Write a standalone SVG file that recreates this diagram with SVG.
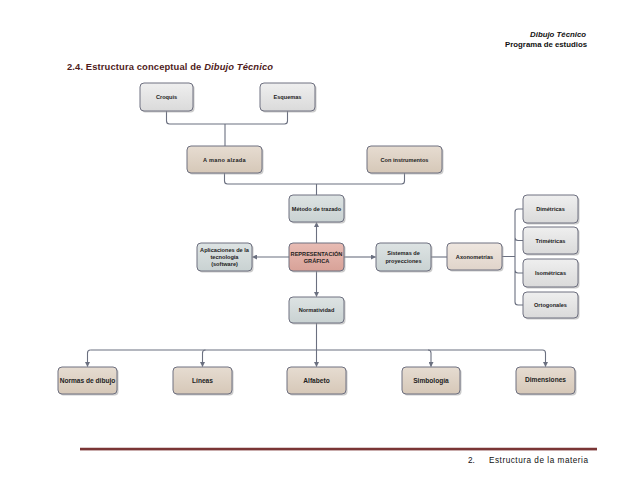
<svg xmlns="http://www.w3.org/2000/svg" width="638" height="493" viewBox="0 0 638 493">
<defs>
<linearGradient id="gGray" x1="0" y1="0" x2="0" y2="1"><stop offset="0" stop-color="#efefef"/><stop offset="1" stop-color="#dadada"/></linearGradient>
<linearGradient id="gBeige" x1="0" y1="0" x2="0" y2="1"><stop offset="0" stop-color="#e6dcd1"/><stop offset="1" stop-color="#d6c8b8"/></linearGradient>
<linearGradient id="gLight" x1="0" y1="0" x2="0" y2="1"><stop offset="0" stop-color="#efe7e0"/><stop offset="1" stop-color="#e0d4ca"/></linearGradient>
<linearGradient id="gBlue" x1="0" y1="0" x2="0" y2="1"><stop offset="0" stop-color="#dde3e3"/><stop offset="1" stop-color="#c9d2d2"/></linearGradient>
<linearGradient id="gPink" x1="0" y1="0" x2="0" y2="1"><stop offset="0" stop-color="#e8bcb4"/><stop offset="1" stop-color="#d8a298"/></linearGradient>
<marker id="arr" viewBox="0 0 10 10" refX="9" refY="5" markerWidth="5" markerHeight="5" orient="auto" markerUnits="userSpaceOnUse"><path d="M0,0 L10,5 L0,10 z" fill="#6b7080"/></marker>
</defs>
<style>
.sh{fill:#a0a0a0;opacity:0.55}
.bx{stroke:#6e7080;stroke-width:1}
.gray{fill:url(#gGray)}
.beige{fill:url(#gBeige)}
.light{fill:url(#gLight)}
.blue{fill:url(#gBlue)}
.pink{fill:url(#gPink)}
.t{font-family:"Liberation Sans",Arial,sans-serif;font-weight:bold;font-size:5.6px;fill:#222;text-anchor:middle}
.tb{font-family:"Liberation Sans",Arial,sans-serif;font-weight:bold;font-size:6.6px;fill:#222;text-anchor:middle}
.c{fill:none;stroke:#6b7080;stroke-width:1.1}
</style>
<rect width="638" height="493" fill="#ffffff"/>
<g id="header" font-family="'Liberation Sans',Arial,sans-serif" font-weight="bold" fill="#111" text-anchor="end">
<text x="586" y="37" font-size="7.8" font-style="italic">Dibujo Técnico</text>
<text x="587" y="47" font-size="7.8">Programa de estudios</text>
</g>
<text id="title" x="67" y="70" font-family="'Liberation Sans',Arial,sans-serif" font-weight="bold" font-size="9.4" fill="#4f1c1c" textLength="206">2.4. Estructura conceptual de <tspan font-style="italic">Dibujo Técnico</tspan></text>
<g id="connectors">
<path class="c" d="M166.5,111 V121 Q166.5,124 169.5,124 H284.5 Q287.5,124 287.5,121 V111 M225,124 V146"/>
<path class="c" d="M224.5,173 V181 Q224.5,184 227.5,184 H401.5 Q404.5,184 404.5,181 V173 M316.5,184 V195"/>
<path class="c" d="M316.5,243 V222.5" marker-end="url(#arr)"/>
<path class="c" d="M289,257 H252.5" marker-end="url(#arr)"/>
<path class="c" d="M344,257 H375.5" marker-end="url(#arr)"/>
<path class="c" d="M316.5,271 V296.5" marker-end="url(#arr)"/>
<path class="c" d="M431,257 H447"/>
<path class="c" d="M502,256.5 H515 M523,209 H518 Q515,209 515,212 V302 Q515,305 518,305 H523 M515,237.5 Q515,240.5 518,240.5 H523 M515,270 Q515,273 518,273 H523"/>
<path class="c" d="M316.5,323 V366.5" marker-end="url(#arr)"/>
<path class="c" d="M90.5,350 H542.5 Q545.5,350 545.5,353 V366.5" marker-end="url(#arr)"/>
<path class="c" d="M90.5,350 Q87.5,350 87.5,353 V366.5" marker-end="url(#arr)"/>
<path class="c" d="M205.5,350 Q202.5,350 202.5,353 V366.5" marker-end="url(#arr)"/>
<path class="c" d="M428,350 Q431,350 431,353 V366.5" marker-end="url(#arr)"/>
</g>
<g id="croquis"><rect class="sh" x="141.5" y="84.5" width="53" height="28" rx="4"/><rect class="bx gray" x="140" y="83" width="53" height="28" rx="4"/><text class="t" x="166.5" y="99">Croquis</text></g>
<g id="esquemas"><rect class="sh" x="261.5" y="84.5" width="55" height="28" rx="4"/><rect class="bx gray" x="260" y="83" width="55" height="28" rx="4"/><text class="t" x="287.5" y="99">Esquemas</text></g>
<g id="amanoalzada"><rect class="sh" x="188.5" y="147.5" width="75" height="27" rx="4"/><rect class="bx beige" x="187" y="146" width="75" height="27" rx="4"/><text class="t" x="224.5" y="161.5" letter-spacing="0.3">A mano alzada</text></g>
<g id="coninstrumentos"><rect class="sh" x="368.5" y="147.5" width="75" height="27" rx="4"/><rect class="bx beige" x="367" y="146" width="75" height="27" rx="4"/><text class="t" x="404.5" y="161.5">Con instrumentos</text></g>
<g id="metodo"><rect class="sh" x="290.5" y="196.5" width="55" height="27" rx="4"/><rect class="bx blue" x="289" y="195" width="55" height="27" rx="4"/><text class="t" x="316.5" y="210.5">Método de trazado</text></g>
<g id="representacion"><rect class="sh" x="290.5" y="244.5" width="55" height="28" rx="4"/><rect class="bx pink" x="289" y="243" width="55" height="28" rx="4"/><text class="t" x="316.5" y="255.5">REPRESENTACIÓN</text><text class="t" x="316.5" y="263">GRÁFICA</text></g>
<g id="aplicaciones"><rect class="sh" x="198.5" y="244.5" width="55" height="28" rx="4"/><rect class="bx blue" x="197" y="243" width="55" height="28" rx="4"/><text class="t" x="224.5" y="251.5">Aplicaciones de la</text><text class="t" x="224.5" y="258.5">tecnología</text><text class="t" x="224.5" y="265.5">(software)</text></g>
<g id="sistemas"><rect class="sh" x="377.5" y="244.5" width="55" height="28" rx="4"/><rect class="bx blue" x="376" y="243" width="55" height="28" rx="4"/><text class="t" x="403.5" y="255">Sistemas de</text><text class="t" x="403.5" y="263">proyecciones</text></g>
<g id="axonometrias"><rect class="sh" x="448.5" y="244.5" width="55" height="27" rx="4"/><rect class="bx light" x="447" y="243" width="55" height="27" rx="4"/><text class="t" x="474.5" y="258.5">Axonometrías</text></g>
<g id="dimetricas"><rect class="sh" x="524.5" y="196.5" width="55" height="28" rx="4"/><rect class="bx gray" x="523" y="195" width="55" height="28" rx="4"/><text class="t" x="550.5" y="211">Dimétricas</text></g>
<g id="trimetricas"><rect class="sh" x="524.5" y="228.5" width="55" height="27" rx="4"/><rect class="bx gray" x="523" y="227" width="55" height="27" rx="4"/><text class="t" x="550.5" y="242.5">Trimétricas</text></g>
<g id="isometricas"><rect class="sh" x="524.5" y="260.5" width="55" height="28" rx="4"/><rect class="bx gray" x="523" y="259" width="55" height="28" rx="4"/><text class="t" x="550.5" y="275">Isométricas</text></g>
<g id="ortogonales"><rect class="sh" x="524.5" y="293.5" width="55" height="26" rx="4"/><rect class="bx gray" x="523" y="292" width="55" height="26" rx="4"/><text class="t" x="550.5" y="307">Ortogonales</text></g>
<g id="normatividad"><rect class="sh" x="290.5" y="298.5" width="55" height="26" rx="4"/><rect class="bx blue" x="289" y="297" width="55" height="26" rx="4"/><text class="t" x="316.5" y="312">Normatividad</text></g>
<g id="normas"><rect class="sh" x="59.5" y="368.5" width="59" height="27" rx="4"/><rect class="bx beige" x="58" y="367" width="59" height="27" rx="4"/><text class="tb" x="87.5" y="383">Normas de dibujo</text></g>
<g id="lineas"><rect class="sh" x="174.5" y="368.5" width="59" height="27" rx="4"/><rect class="bx beige" x="173" y="367" width="59" height="27" rx="4"/><text class="tb" x="202.5" y="383">Líneas</text></g>
<g id="alfabeto"><rect class="sh" x="288.5" y="368.5" width="59" height="27" rx="4"/><rect class="bx beige" x="287" y="367" width="59" height="27" rx="4"/><text class="tb" x="316.5" y="383">Alfabeto</text></g>
<g id="simbologia"><rect class="sh" x="403.5" y="368.5" width="58" height="27" rx="4"/><rect class="bx beige" x="402" y="367" width="58" height="27" rx="4"/><text class="tb" x="431" y="383">Simbología</text></g>
<g id="dimensiones"><rect class="sh" x="517.5" y="368.5" width="59" height="27" rx="4"/><rect class="bx beige" x="516" y="367" width="59" height="27" rx="4"/><text class="tb" x="545.5" y="382">Dimensiones</text></g>
<g id="footer">
<line x1="80" y1="450" x2="597" y2="450" stroke="#c9a9a9" stroke-width="1"/>
<line x1="80" y1="449" x2="597" y2="449" stroke="#7a3535" stroke-width="2.4"/>
<text x="468" y="463" font-family="'Liberation Sans',Arial,sans-serif" font-size="8.2" fill="#111">2.</text>
<text x="489" y="463" font-family="'Liberation Sans',Arial,sans-serif" font-size="8.2" fill="#111" textLength="99">Estructura de la materia</text>
</g>
</svg>
